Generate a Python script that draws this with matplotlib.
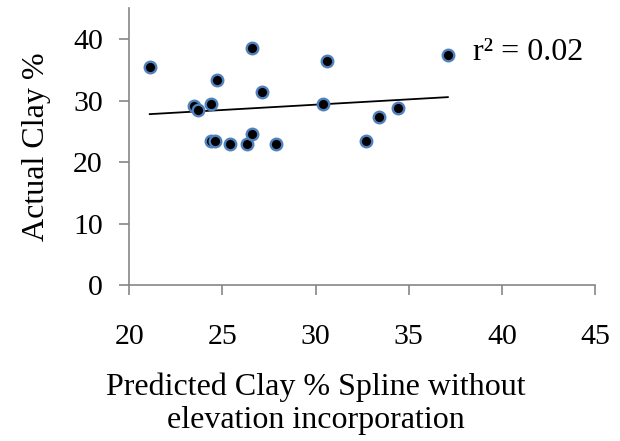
import numpy as np
import matplotlib.pyplot as plt

plt.rcParams['font.family'] = ['Liberation Serif', 'DejaVu Serif']

# predicted (spline, no elevation) vs actual clay %
predicted = [21.1, 26.6, 30.6, 37.1, 24.7, 27.1, 23.5, 23.7, 24.4, 30.4,
             33.4, 34.4, 24.4, 24.6, 25.4, 26.3, 26.6, 27.9, 32.7]
actual = [35.4, 38.5, 36.5, 37.4, 33.4, 31.4, 29.1, 28.5, 29.5, 29.5,
          27.4, 28.8, 23.5, 23.5, 23.0, 23.0, 24.5, 23.0, 23.5]
x_ticks = [20, 25, 30, 35, 40, 45]
y_ticks = [0, 10, 20, 30, 40]
r2_text = "r² = 0.02"

fig = plt.figure(figsize=(6.2, 4.41), dpi=100)
ax = fig.add_axes([0.2085, 0.3537, 0.7512, 0.6275])

ax.plot(predicted, actual, 'o', color='black', markersize=8.3,
        markeredgecolor='#4f81bd', markeredgewidth=1.7, zorder=3)

# linear trendline over data range
slope, intercept = np.polyfit(predicted, actual, 1)
xs = np.array([min(predicted), max(predicted)])
ax.plot(xs, slope * xs + intercept, color='black', lw=1.3, zorder=2)

ax.text(473, 441 - 53, r2_text, transform=None, fontsize=23,
        va='center', ha='left')

ax.set_xlim(20, 45)
ax.set_ylim(0, 45)
ax.set_xticks(x_ticks)
ax.set_yticks(y_ticks)
for s in ['top', 'right']:
    ax.spines[s].set_visible(False)
for s in ['left', 'bottom']:
    ax.spines[s].set_color('#868686')
    ax.spines[s].set_linewidth(1.2)
ax.tick_params(direction='out', length=7, width=1.2, color='#868686',
               labelsize=21.5)
ax.tick_params(axis='y', pad=12)
ax.tick_params(axis='x', pad=21)

ax.set_ylabel('Actual Clay %', fontsize=23, labelpad=16)
ax.set_xlabel('Predicted Clay % Spline without\nelevation incorporation',
              fontsize=23, labelpad=16, linespacing=1.22, x=0.401)

fig.savefig('out.png', dpi=100)
